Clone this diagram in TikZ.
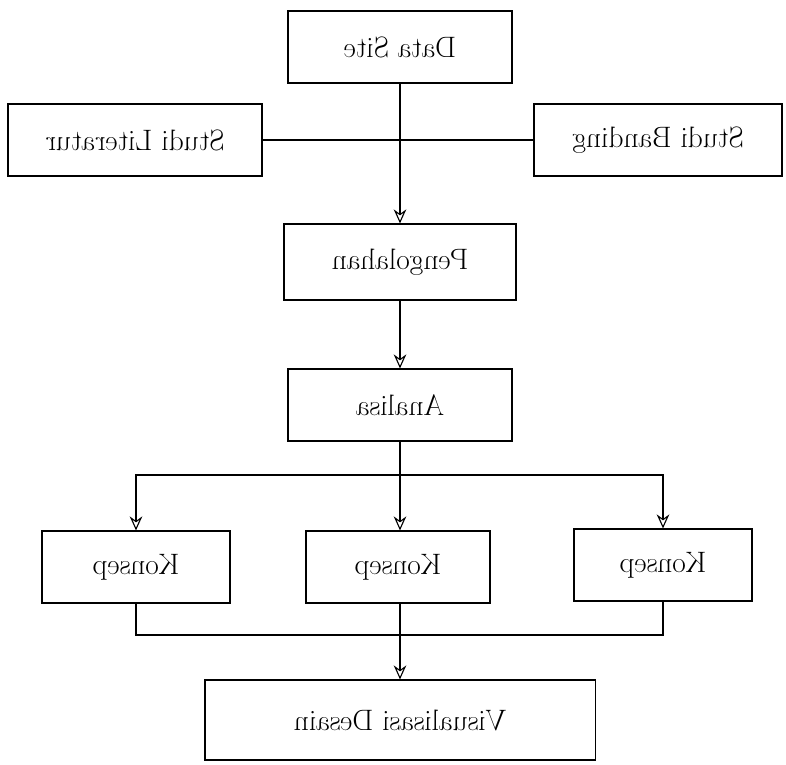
\documentclass[tikz,border=0pt]{standalone}
\usepackage{graphicx}
\usetikzlibrary{positioning,arrows.meta}

\begin{document}
\begin{tikzpicture}[x=0.025cm,y=-0.025cm,font=\fontsize{21}{25}\selectfont,box/.style={draw,thick,align=center,minimum height=1.8cm,inner sep=4pt},flow/.style={thick,-{Stealth[length=10pt,width=9pt,open]}}]
\useasboundingbox (0,0) rectangle (786,764);
\node[box,minimum width=5.6cm] (site) at (400,47){\reflectbox{Data Site}};
\node[box,minimum width=6.35cm] (literatur) at (135,140){\reflectbox{Studi Literatur}};
\node[box,minimum width=6.2cm] (banding) at (658,140){\reflectbox{Studi Banding}};
\node[box,minimum width=5.8cm,minimum height=1.9cm] (olah) at (400,262){\reflectbox{Pengolahan}};
\node[box,minimum width=5.6cm] (analisa) at (400,405){\reflectbox{Analisa}};
\node[box,minimum width=4.7cm] (konsepA) at (136,567){\reflectbox{Konsep}};
\node[box,minimum width=4.6cm] (konsepB) at (398,567){\reflectbox{Konsep}};
\node[box,minimum width=4.45cm] (konsepC) at (663,565){\reflectbox{Konsep}};
\node[box,minimum width=9.75cm,minimum height=2cm] (visual) at (400,720){\reflectbox{Visualisasi Desain}};
\coordinate (bagi) at (400,475);
\coordinate (gabung) at (400,635);
\draw[thick] (literatur.east) -- (banding.west);
\draw[flow] (site) -- (olah);
\draw[flow] (olah) -- (analisa);
\draw[thick] (analisa) -- (bagi);
\draw[flow] (bagi) -| (konsepA);
\draw[flow] (bagi) -- (bagi |- konsepB.north);
\draw[flow] (bagi) -| (konsepC);
\draw[thick] (konsepA) |- (gabung);
\draw[thick] (konsepB.south -| gabung) -- (gabung);
\draw[thick] (konsepC) |- (gabung);
\draw[flow] (gabung) -- (visual);
\end{tikzpicture}
\end{document}
